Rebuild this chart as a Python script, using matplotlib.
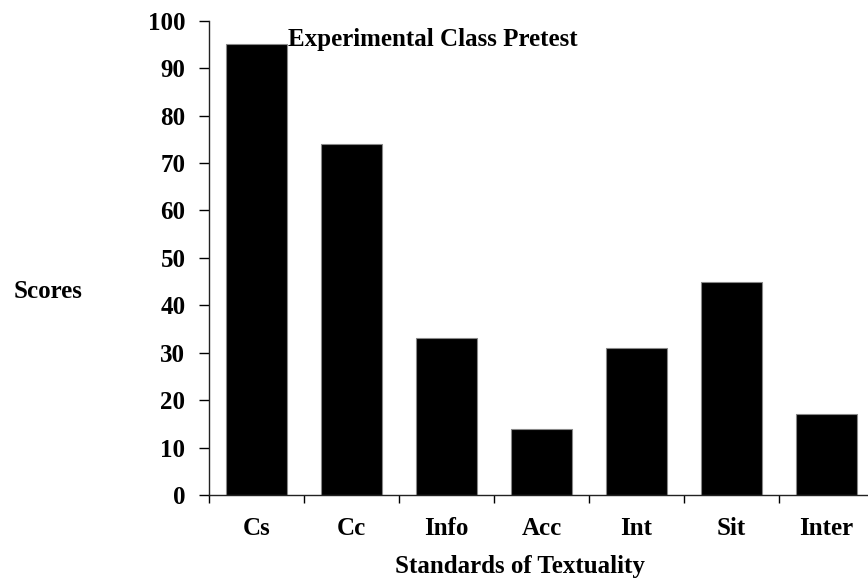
import numpy as np
import matplotlib
from matplotlib import pyplot as plt

matplotlib.use('agg')

categories = ["Cs", "Cc", "Info", "Acc", "Int", "Sit", "Inter"]
scores = [95, 74, 33, 14, 31, 45, 17]
y_ticks = [0, 10, 20, 30, 40, 50, 60, 70, 80, 90, 100]

plt.rcParams['font.family'] = ['Liberation Serif', 'DejaVu Serif']
plt.rcParams['font.weight'] = 'bold'
FS = 18

fig = plt.figure(figsize=(8.68, 5.78), dpi=100)
# axes runs slightly past the right edge, like the cropped original
ax = fig.add_axes([209 / 868, 1 - 495 / 578, 665 / 868, (495 - 20.7) / 578])

x = np.arange(len(categories))
ax.bar(x, scores, width=0.64, color='black', edgecolor='#888888', linewidth=0.8)

ax.set_xlim(-0.5, len(categories) - 0.5)
ax.set_ylim(0, 100)

# ticks sit between the bars, labels under the bars
ax.set_xticks(np.arange(len(categories) + 1) - 0.5)
ax.set_xticklabels([])
ax.set_xticks(x, minor=True)
ax.set_xticklabels(categories, minor=True, fontsize=FS, fontweight='bold')
ax.tick_params(axis='x', which='minor', length=0, pad=16)
ax.tick_params(axis='x', which='major', length=6, width=1, direction='out')

ax.set_yticks(y_ticks)
ax.set_yticklabels([str(v) for v in y_ticks], fontsize=FS, fontweight='bold')
ax.tick_params(axis='y', length=7, width=1, direction='out', pad=10)

for side in ['top', 'right']:
    ax.spines[side].set_visible(False)
for side in ['left', 'bottom']:
    ax.spines[side].set_linewidth(1)
    ax.spines[side].set_color('#222222')

ax.text(0.33, 96.0, "Experimental Class Pretest", fontsize=FS, fontweight='bold',
        ha='left', va='center')

fig.text(48 / 868, 1 - 292 / 578, "Scores", fontsize=FS, fontweight='bold',
         ha='center', va='center')
fig.text(520 / 868, 1 - 566 / 578, "Standards of Textuality", fontsize=FS,
         fontweight='bold', ha='center', va='center')

fig.savefig('out.png', dpi=100)
plt.close(fig)
